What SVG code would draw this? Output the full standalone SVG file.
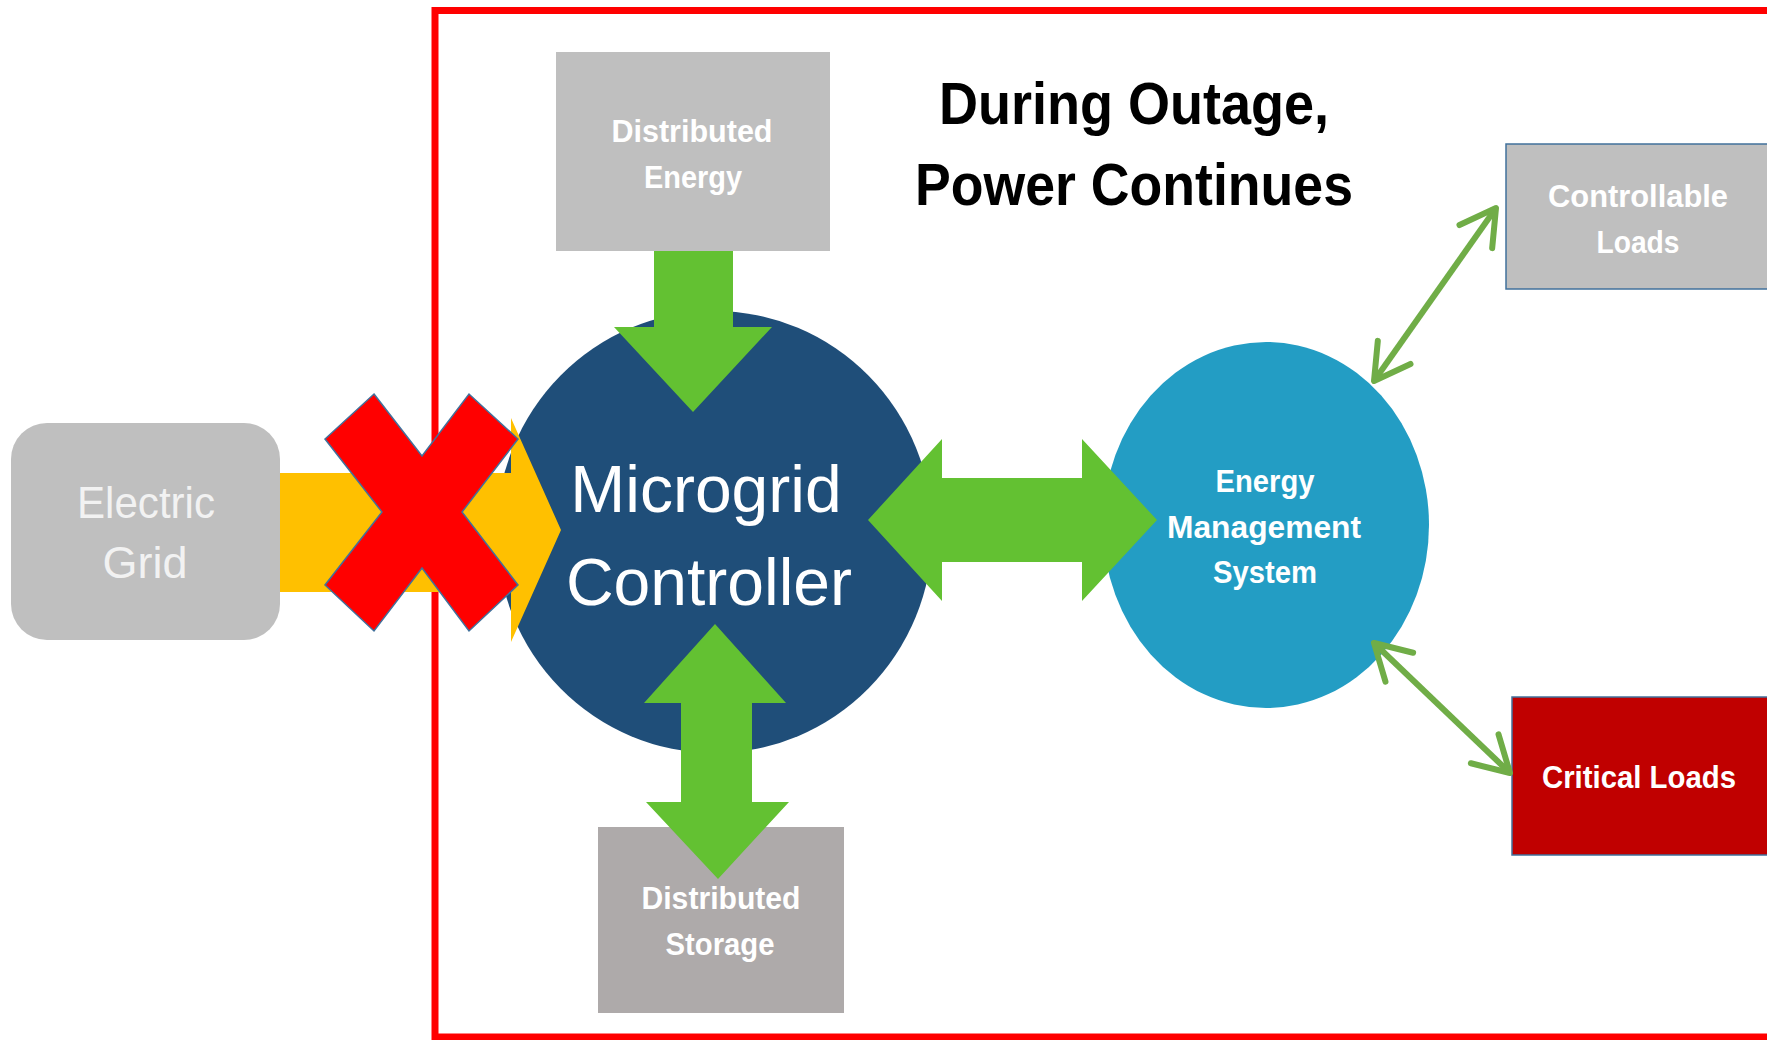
<svg xmlns="http://www.w3.org/2000/svg" width="1767" height="1040" viewBox="0 0 1767 1040">
<defs>
<style>
.lbl{font-family:"Liberation Sans",Arial,sans-serif;font-weight:bold;fill:#FFFFFF;text-anchor:middle}
.reg{font-family:"Liberation Sans",Arial,sans-serif;font-weight:normal;text-anchor:middle}
.big{fill:#63C132}
.thin{stroke:#70AD47;stroke-width:6;fill:none;marker-start:url(#chev);marker-end:url(#chev)}
</style>
<marker id="chev" markerUnits="userSpaceOnUse" orient="auto-start-reverse" refX="0" refY="0" markerWidth="90" markerHeight="90" viewBox="-45 -45 90 90" overflow="visible">
<path d="M-35,-20 L0,0 L-35,20" fill="none" stroke="#70AD47" stroke-width="6" stroke-linecap="round" stroke-linejoin="round"/>
</marker>
</defs>
<rect width="1767" height="1040" fill="#FFFFFF"/>
<g id="boundary">
<rect x="435" y="10.5" width="1400" height="1026.5" fill="none" stroke="#FF0000" stroke-width="7"/>
</g>
<g id="title">
<text class="lbl" x="1134" y="124" font-size="60" textLength="390" lengthAdjust="spacingAndGlyphs" style="fill:#000000">During Outage,</text>
<text class="lbl" x="1134" y="205" font-size="60" textLength="438" lengthAdjust="spacingAndGlyphs" style="fill:#000000">Power Continues</text>
</g>
<g id="electric-grid">
<rect x="11" y="423" width="269" height="217" rx="36" ry="36" fill="#BFBFBF"/>
<text class="reg" x="146" y="518" font-size="45" textLength="138" lengthAdjust="spacingAndGlyphs" fill="#F2F2F2">Electric</text>
<text class="reg" x="145" y="578" font-size="45" fill="#F2F2F2">Grid</text>
</g>
<g id="microgrid-controller">
<ellipse cx="714.5" cy="532" rx="218" ry="221" fill="#1F4E79"/>
</g>
<g id="distributed-energy">
<rect x="556" y="52" width="274" height="199" fill="#BFBFBF"/>
<text class="lbl" x="692" y="142" font-size="31" textLength="161" lengthAdjust="spacingAndGlyphs">Distributed</text>
<text class="lbl" x="693" y="188" font-size="31" textLength="98" lengthAdjust="spacingAndGlyphs">Energy</text>
</g>
<g id="distributed-storage">
<rect x="598" y="827" width="246" height="186" fill="#AEAAAA"/>
<text class="lbl" x="721" y="909" font-size="31" textLength="159" lengthAdjust="spacingAndGlyphs">Distributed</text>
<text class="lbl" x="720" y="955" font-size="31" textLength="109" lengthAdjust="spacingAndGlyphs">Storage</text>
</g>
<g id="ems">
<ellipse cx="1266" cy="525" rx="163" ry="183" fill="#239DC4"/>
<text class="lbl" x="1265" y="492" font-size="31" textLength="99" lengthAdjust="spacingAndGlyphs">Energy</text>
<text class="lbl" x="1264" y="538" font-size="31" textLength="194" lengthAdjust="spacingAndGlyphs">Management</text>
<text class="lbl" x="1265" y="583" font-size="31" textLength="104" lengthAdjust="spacingAndGlyphs">System</text>
</g>
<g id="controllable-loads">
<rect x="1506" y="144" width="270" height="145" fill="#BFBFBF" stroke="#41719C" stroke-width="1.5"/>
<text class="lbl" x="1638" y="207" font-size="32" textLength="180" lengthAdjust="spacingAndGlyphs">Controllable</text>
<text class="lbl" x="1638" y="253" font-size="32" textLength="83" lengthAdjust="spacingAndGlyphs">Loads</text>
</g>
<g id="critical-loads">
<rect x="1512" y="697" width="270" height="158" fill="#C00000" stroke="#41719C" stroke-width="1.5"/>
<text class="lbl" x="1639" y="788" font-size="32" textLength="194" lengthAdjust="spacingAndGlyphs">Critical Loads</text>
</g>
<g id="connectors">
<polygon points="280,473 511,473 511,418 561,530 511,642 511,592 280,592" fill="#FFC000"/>
<polygon class="big" points="654,251 733,251 733,327 772,327 693,412 614,327 654,327"/>
<polygon class="big" points="715,624 786,703 752,703 752,802 789,802 718,879 646,802 681,802 681,703 644,703"/>
<polygon class="big" points="868,520 942,439 942,478 1082,478 1082,439 1157,520 1082,601 1082,562 942,562 942,601"/>
<line class="thin" x1="1374" y1="381" x2="1496" y2="208"/>
<line class="thin" x1="1374" y1="643" x2="1510" y2="773"/>
</g>
<g id="microgrid-label">
<text class="reg" x="706" y="512" font-size="66" fill="#FFFFFF">Microgrid</text>
<text class="reg" x="709" y="605" font-size="66" fill="#FFFFFF">Controller</text>
</g>
<g id="outage-x">
<polygon points="374,394 422,456 469,394 518,439 462,512 518,585 469,631 422,568 374,631 325,585 382,512 325,439" fill="#FF0000" stroke="#41719C" stroke-width="1.5"/>
</g>
</svg>
